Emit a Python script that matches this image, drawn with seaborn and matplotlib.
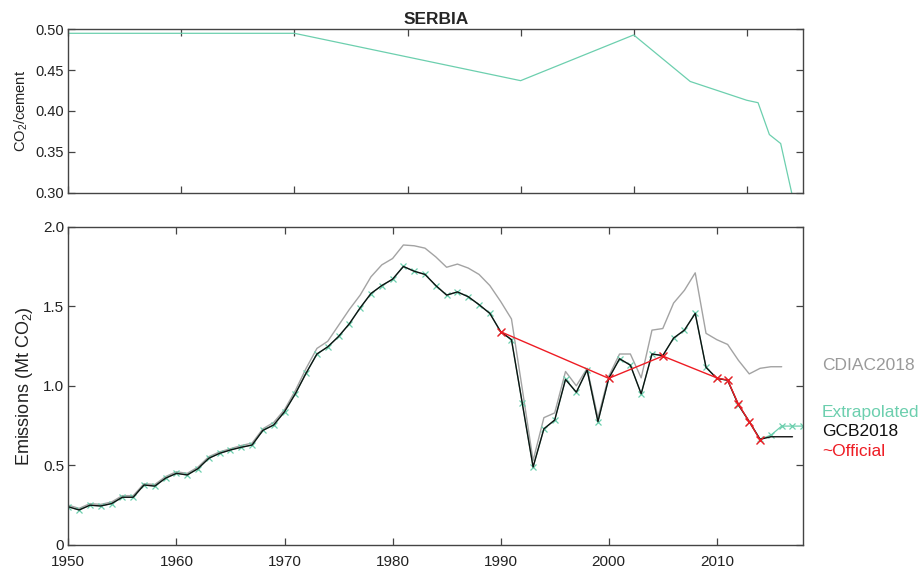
import numpy as np
import pandas as pd
import matplotlib
matplotlib.use("Agg")
import matplotlib.pyplot as plt
import seaborn as sns

# ---------------- data ----------------
years = list(range(1950, 2018))  # GCB2018 years 1950-2017
gcb2018 = [0.24, 0.22, 0.25, 0.245, 0.26, 0.30, 0.30, 0.377, 0.37, 0.42,
           0.45, 0.44, 0.48, 0.545, 0.576, 0.597, 0.614, 0.628, 0.72, 0.754,
           0.837, 0.95, 1.08, 1.20, 1.245, 1.31, 1.39, 1.49, 1.58, 1.63,
           1.67, 1.75, 1.72, 1.70, 1.63, 1.57, 1.59, 1.56, 1.51, 1.455,
           1.34, 1.29, 0.89, 0.49, 0.73, 0.785, 1.04, 0.96, 1.10, 0.775,
           1.047, 1.17, 1.13, 0.95, 1.20, 1.19, 1.30, 1.35, 1.455, 1.116,
           1.047, 1.035, 0.88, 0.775, 0.664, 0.68, 0.68, 0.68]

cdiac_years = list(range(1950, 2017))
cdiac2018 = [0.25, 0.23, 0.26, 0.255, 0.27, 0.31, 0.31, 0.385, 0.38, 0.43,
             0.46, 0.45, 0.49, 0.555, 0.585, 0.605, 0.625, 0.64, 0.73, 0.77,
             0.85, 0.97, 1.11, 1.235, 1.28, 1.38, 1.48, 1.57, 1.685, 1.76,
             1.80, 1.885, 1.88, 1.865, 1.81, 1.745, 1.765, 1.74, 1.70, 1.63,
             1.53, 1.42, 0.98, 0.53, 0.80, 0.83, 1.09, 1.00, 1.11, 0.80,
             1.06, 1.20, 1.20, 1.05, 1.35, 1.36, 1.52, 1.60, 1.71, 1.33,
             1.29, 1.26, 1.16, 1.075, 1.11, 1.12, 1.12]

extrap_years = list(range(1950, 2019))
extrap_tail = [0.69, 0.747, 0.747, 0.747]   # 2015-2018
extrapolated = gcb2018[:65] + extrap_tail

official_years = [1990, 2000, 2005, 2010, 2011, 2012, 2013, 2014]
official = [1.34, 1.047, 1.187, 1.05, 1.036, 0.884, 0.775, 0.66]

cement_years = [1950, 1970, 1990, 2000, 2005, 2010, 2011, 2012, 2013, 2014]
cement_ratio = [0.495, 0.495, 0.437, 0.493, 0.436, 0.413, 0.410, 0.371, 0.360, 0.298]

bottom_yticks = [0, 0.5, 1.0, 1.5, 2.0]
bottom_yticklabels = ["0", "0.5", "1.0", "1.5", "2.0"]
top_yticks = [0.30, 0.35, 0.40, 0.45, 0.50]
xticks = [1950, 1960, 1970, 1980, 1990, 2000, 2010]

# ---------------- style ----------------
sns.set_theme(style="white")
plt.rcParams['font.family'] = ['Liberation Sans', 'DejaVu Sans']
plt.rcParams['mathtext.fontset'] = 'custom'
plt.rcParams['mathtext.rm'] = 'Liberation Sans'
plt.rcParams['mathtext.it'] = 'Liberation Sans'

TEAL = "#6ccfae"
GRAY = "#a3a3a3"
RED = "#ee1c24"
SPINE = "#444444"

fig = plt.figure(figsize=(9.21, 5.73), dpi=100)
ax_top = fig.add_axes([0.0742, 0.664, 0.7980, 0.285])
ax_bot = fig.add_axes([0.0742, 0.0489, 0.7980, 0.5555])

def style_axes(ax, labelsize):
    for s in ax.spines.values():
        s.set_color(SPINE)
        s.set_linewidth(1.0)
        s.set_visible(True)
    ax.tick_params(direction="in", top=True, right=True, bottom=True, left=True,
                   length=5, width=0.9, color=SPINE, labelsize=labelsize,
                   labelcolor="#222222", pad=3)

# ---------------- top panel ----------------
df_c = pd.DataFrame({"year": cement_years, "ratio": cement_ratio})
sns.lineplot(data=df_c, x="year", y="ratio", ax=ax_top, color=TEAL, linewidth=0.9)
ax_top.set_xlim(1950, 2015)
ax_top.set_ylim(0.30, 0.50)
ax_top.set_xticks(xticks)
ax_top.set_xticklabels([])
ax_top.set_yticks(top_yticks)
ax_top.set_yticklabels([f"{v:.2f}" for v in top_yticks])
ax_top.set_xlabel("")
ax_top.set_ylabel("CO$_2$/cement", fontsize=10.5, color="#222222", labelpad=4)
ax_top.set_title("SERBIA", fontsize=12.5, fontweight="bold", pad=4)
style_axes(ax_top, 10.5)

# ---------------- bottom panel ----------------
df_cd = pd.DataFrame({"year": cdiac_years, "val": cdiac2018})
df_ex = pd.DataFrame({"year": extrap_years, "val": extrapolated})
df_g = pd.DataFrame({"year": years, "val": gcb2018})
df_o = pd.DataFrame({"year": official_years, "val": official})

sns.lineplot(data=df_cd, x="year", y="val", ax=ax_bot, color=GRAY, linewidth=1.0)
sns.lineplot(data=df_ex, x="year", y="val", ax=ax_bot, color=TEAL, linewidth=0.9,
             marker="x", markersize=5, markeredgecolor=TEAL, markeredgewidth=0.9)
sns.lineplot(data=df_g, x="year", y="val", ax=ax_bot, color="#111111", linewidth=1.0)
sns.lineplot(data=df_o, x="year", y="val", ax=ax_bot, color=RED, linewidth=1.0,
             marker="x", markersize=6, markeredgecolor=RED, markeredgewidth=1.0)

ax_bot.set_xlim(1950, 2018)
ax_bot.set_ylim(0, 2.0)
ax_bot.set_xticks(xticks)
ax_bot.set_xticklabels([str(x) for x in xticks])
ax_bot.set_yticks(bottom_yticks)
ax_bot.set_yticklabels(bottom_yticklabels)
ax_bot.set_xlabel("")
ax_bot.set_ylabel("Emissions (Mt CO$_2$)", fontsize=13, color="#222222", labelpad=6)
style_axes(ax_bot, 11)
ax_bot.tick_params(axis="x", pad=7)

# side labels
fig.text(822 / 921, 1 - 366 / 573, "CDIAC2018", color="#9a9a9a", fontsize=12.5, va="center", ha="left")
fig.text(822 / 921, 1 - 412 / 573, "Extrapolated", color=TEAL, fontsize=12.5, va="center", ha="left")
fig.text(822 / 921, 1 - 432 / 573, "GCB2018", color="#111111", fontsize=12.5, va="center", ha="left")
fig.text(822 / 921, 1 - 451 / 573, "~Official", color=RED, fontsize=12.5, va="center", ha="left")

fig.savefig("out.png", dpi=100)
